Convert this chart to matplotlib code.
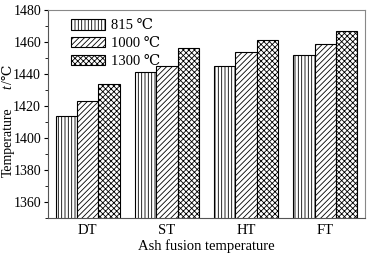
import matplotlib
matplotlib.use("Agg")
import matplotlib.pyplot as plt
import numpy as np

plt.rcParams['font.family'] = ['Liberation Serif', 'DejaVu Serif']
plt.rcParams['hatch.linewidth'] = 0.6

categories = ['DT', 'ST', 'HT', 'FT']
series_labels = ['815 ℃', '1000 ℃', '1300 ℃']
v815 = [1414, 1441, 1445, 1452]
v1000 = [1423, 1445, 1454, 1459]
v1300 = [1434, 1456, 1461, 1467]
series = [v815, v1000, v1300]
hatches = ['|||||', '//////', 'xxxxxx']

fig = plt.figure(figsize=(3.69, 2.54), dpi=100)
ax = fig.add_axes([48/369, 1 - 218/254, 317/369, 208/254])

x = np.arange(len(categories))
w = 0.27
for i, (vals, lab, h) in enumerate(zip(series, series_labels, hatches)):
    ax.bar(x + (i - 1) * w, vals, w, color='white', edgecolor='black',
           hatch=h, linewidth=0.8, label=lab)

fs = 10.5
ax.set_xlim(-0.5, 3.5)
ax.set_ylim(1350, 1480)
ax.set_yticks(np.arange(1360, 1481, 20))
ax.set_yticks(np.arange(1350, 1481, 10), minor=True)
ax.set_xticks(x)
ax.set_xticklabels(categories)
ax.tick_params(axis='x', length=0, labelsize=fs, pad=4)
ax.tick_params(axis='y', which='major', length=3, labelsize=10, direction='out', pad=2)
ax.tick_params(axis='y', which='minor', length=2, direction='out')
for s in ['top', 'right']:
    ax.spines[s].set_color('#888888')
for s in ['left', 'bottom']:
    ax.spines[s].set_color('#555555')

ax.set_xlabel('Ash fusion temperature', fontsize=fs, labelpad=2)

# y label built from separate pieces (italic t)
lx = -0.125
ax.text(lx, 0.363, 'Temperature', transform=ax.transAxes, rotation=90,
        ha='center', va='center', fontsize=10)
ax.text(lx, 0.628, 't', transform=ax.transAxes, rotation=90,
        ha='center', va='center', fontsize=10, style='italic')
ax.text(lx, 0.69, '/℃', transform=ax.transAxes, rotation=90,
        ha='center', va='center', fontsize=10)

leg = ax.legend(loc='upper left', frameon=False, fontsize=fs, handlelength=2.3,
                handleheight=0.75, labelspacing=0.3, borderaxespad=0.0,
                bbox_to_anchor=(0.055, 0.985), handletextpad=0.4)

fig.savefig('out.png', dpi=100)
